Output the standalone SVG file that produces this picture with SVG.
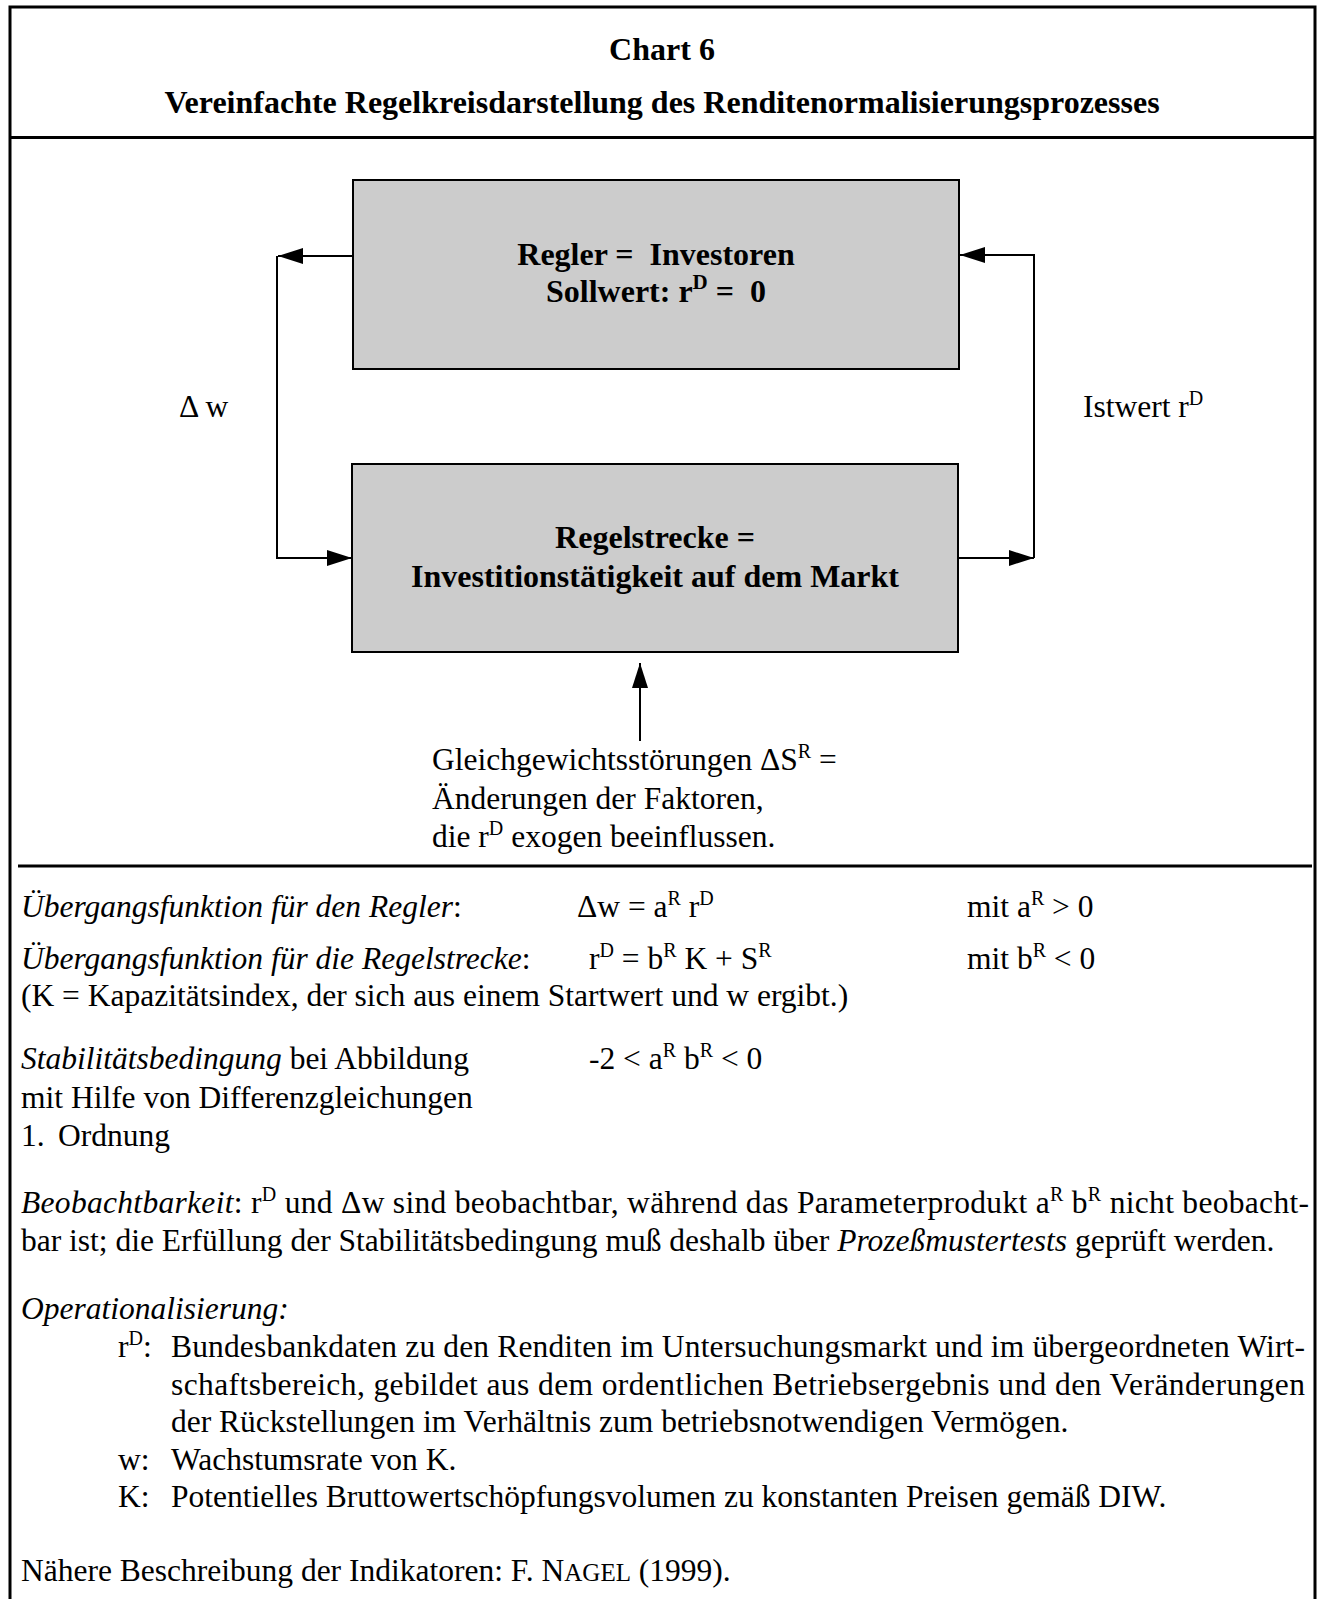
<svg xmlns="http://www.w3.org/2000/svg" width="1321" height="1599" viewBox="0 0 1321 1599">
<style>
.t{font-family:"Liberation Serif","Times New Roman",serif;font-size:31.5px;fill:#000}
.b{font-weight:bold;font-size:32px}
.i{font-style:italic}
.box{fill:#cccccc;stroke:#000;stroke-width:2}
.frame{stroke:#000;stroke-width:3;fill:none}
.conn{stroke:#000;stroke-width:2;fill:none}
.sup{font-size:20px}
.bsup{font-size:21px}
</style>
<defs>
<marker id="ah" viewBox="0 0 25 16" refX="25" refY="8" markerWidth="25" markerHeight="16" markerUnits="userSpaceOnUse" orient="auto"><path d="M0,0 L25,8 L0,16 Z" fill="#000"/></marker>
</defs>
<rect width="1321" height="1599" fill="#fff"/>
<g id="frame">
<path class="frame" d="M10,1599 V7 H1315 V1599"/>
<line class="frame" x1="10" y1="137.5" x2="1315" y2="137.5"/>
<line class="frame" x1="18" y1="866" x2="1312" y2="866"/>
</g>
<g id="title">
<text class="t b" x="662" y="60" text-anchor="middle">Chart 6</text>
<text class="t b" x="662" y="113" text-anchor="middle">Vereinfachte Regelkreisdarstellung des Renditenormalisierungsprozesses</text>
</g>
<g id="connectors">
<path class="conn" d="M353,256 H278" marker-end="url(#ah)"/>
<path class="conn" d="M277,256 V558 H352" marker-end="url(#ah)"/>
<path class="conn" d="M958,558 H1034" marker-end="url(#ah)"/>
<path class="conn" d="M1034,558 V255 H960" marker-end="url(#ah)"/>
<path class="conn" d="M640,741 V663" marker-end="url(#ah)"/>
</g>
<g id="regler">
<rect class="box" x="353" y="180" width="606" height="189"/>
<text class="t b" x="656" y="265" text-anchor="middle" xml:space="preserve">Regler =  Investoren</text>
<text class="t b" x="656" y="302" text-anchor="middle" xml:space="preserve">Sollwert: r<tspan class="bsup" dy="-13">D</tspan><tspan dy="13"> =  0</tspan></text>
</g>
<g id="regelstrecke">
<rect class="box" x="352" y="464" width="606" height="188"/>
<text class="t b" x="655" y="548" text-anchor="middle">Regelstrecke =</text>
<text class="t b" x="655" y="587" text-anchor="middle">Investitionstätigkeit auf dem Markt</text>
</g>
<g id="label-dw">
<text class="t" x="179" y="417">Δ w</text>
</g>
<g id="label-istwert">
<text class="t" x="1083" y="417">Istwert r<tspan class="sup" dy="-12">D</tspan></text>
</g>
<g id="stoerungen">
<text class="t" x="432" y="770">Gleichgewichtsstörungen ΔS<tspan class="sup" dy="-12">R</tspan><tspan dy="12"> =</tspan></text>
<text class="t" x="432" y="809">Änderungen der Faktoren,</text>
<text class="t" x="432" y="847">die r<tspan class="sup" dy="-12">D</tspan><tspan dy="12"> exogen beeinflussen.</tspan></text>
</g>
<g id="notes">
<text class="t" x="21" y="917"><tspan class="i">Übergangsfunktion für den Regler</tspan>:</text>
<text class="t" x="577" y="917">Δw = a<tspan class="sup" dy="-12">R</tspan><tspan dy="12"> r</tspan><tspan class="sup" dy="-12">D</tspan></text>
<text class="t" x="967" y="917">mit a<tspan class="sup" dy="-12">R</tspan><tspan dy="12"> &gt; 0</tspan></text>
<text class="t" x="21" y="969"><tspan class="i">Übergangsfunktion für die Regelstrecke</tspan>:</text>
<text class="t" x="589" y="969">r<tspan class="sup" dy="-12">D</tspan><tspan dy="12"> = b</tspan><tspan class="sup" dy="-12">R</tspan><tspan dy="12"> K + S</tspan><tspan class="sup" dy="-12">R</tspan></text>
<text class="t" x="967" y="969">mit b<tspan class="sup" dy="-12">R</tspan><tspan dy="12"> &lt; 0</tspan></text>
<text class="t" x="21" y="1006">(K = Kapazitätsindex, der sich aus einem Startwert und w ergibt.)</text>
<text class="t" x="21" y="1069"><tspan class="i">Stabilitätsbedingung</tspan> bei Abbildung</text>
<text class="t" x="589" y="1069">-2 &lt; a<tspan class="sup" dy="-12">R</tspan><tspan dy="12"> b</tspan><tspan class="sup" dy="-12">R</tspan><tspan dy="12"> &lt; 0</tspan></text>
<text class="t" x="21" y="1108">mit Hilfe von Differenzgleichungen</text>
<text class="t" x="21" y="1146">1. <tspan x="58">Ordnung</tspan></text>
<text class="t" x="21" y="1213" textLength="1288" lengthAdjust="spacing"><tspan class="i">Beobachtbarkeit</tspan>: r<tspan class="sup" dy="-12">D</tspan><tspan dy="12"> und Δw sind beobachtbar, während das Parameterprodukt a</tspan><tspan class="sup" dy="-12">R</tspan><tspan dy="12"> b</tspan><tspan class="sup" dy="-12">R</tspan><tspan dy="12"> nicht beobacht-</tspan></text>
<text class="t" x="21" y="1251">bar ist; die Erfüllung der Stabilitätsbedingung muß deshalb über <tspan class="i">Prozeßmustertests</tspan> geprüft werden.</text>
<text class="t i" x="21" y="1319">Operationalisierung:</text>
<text class="t" x="118" y="1357">r<tspan class="sup" dy="-12">D</tspan><tspan dy="12">:</tspan></text>
<text class="t" x="171" y="1357" textLength="1134" lengthAdjust="spacing">Bundesbankdaten zu den Renditen im Untersuchungsmarkt und im übergeordneten Wirt-</text>
<text class="t" x="171" y="1395" textLength="1134" lengthAdjust="spacing">schaftsbereich, gebildet aus dem ordentlichen Betriebsergebnis und den Veränderungen</text>
<text class="t" x="171" y="1432">der Rückstellungen im Verhältnis zum betriebsnotwendigen Vermögen.</text>
<text class="t" x="118" y="1470">w:</text>
<text class="t" x="171" y="1470">Wachstumsrate von K.</text>
<text class="t" x="118" y="1507">K:</text>
<text class="t" x="171" y="1507">Potentielles Bruttowertschöpfungsvolumen zu konstanten Preisen gemäß DIW.</text>
<text class="t" x="21" y="1581">Nähere Beschreibung der Indikatoren: F. N<tspan font-size="25">AGEL</tspan> (1999).</text>
</g>
</svg>
